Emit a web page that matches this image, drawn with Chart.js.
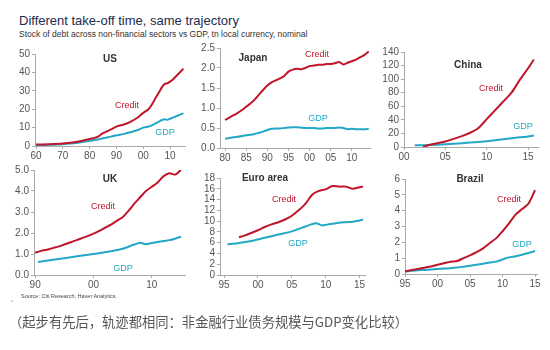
<!DOCTYPE html>
<html>
<head>
<meta charset="utf-8">
<script src="https://cdn.jsdelivr.net/npm/chart.js@4.4.1/dist/chart.umd.min.js"></script>
<style>
  body { margin: 0; background: #fff; width: 550px; height: 350px; position: relative; overflow: hidden;
         font-family: "Liberation Sans", Arial, sans-serif; }
  canvas { position: absolute; }
  .t { position: absolute; white-space: nowrap; }
  .c { transform: translate(-50%, -50%); }
  .name { font-weight: bold; font-size: 10px; color: #333; }
  .cr { font-size: 9px; color: #c0152a; }
  .gd { font-size: 9px; color: #23a7c6; }
</style>
</head>
<body>
<div class="t" style="left:19px;top:13px;font-size:13px;color:#1d2c4c;">Different take-off time, same trajectory</div>
<div class="t" style="left:19px;top:29px;font-size:8.5px;color:#333;">Stock of debt across non-financial sectors vs GDP, tn local currency, nominal</div>

<canvas id="us" width="10" height="10"></canvas>
<canvas id="jp" width="10" height="10"></canvas>
<canvas id="cn" width="10" height="10"></canvas>
<canvas id="uk" width="10" height="10"></canvas>
<canvas id="ea" width="10" height="10"></canvas>
<canvas id="br" width="10" height="10"></canvas>

<div class="t c name" style="left:110px;top:58px;">US</div>
<div class="t c name" style="left:253px;top:57px;">Japan</div>
<div class="t c name" style="left:468px;top:64px;">China</div>
<div class="t c name" style="left:110px;top:178px;">UK</div>
<div class="t c name" style="left:265px;top:177px;">Euro area</div>
<div class="t c name" style="left:470px;top:178px;">Brazil</div>

<div class="t c cr" style="left:127px;top:105px;">Credit</div>
<div class="t c cr" style="left:317px;top:54px;">Credit</div>
<div class="t c cr" style="left:491px;top:88px;">Credit</div>
<div class="t c cr" style="left:103px;top:206px;">Credit</div>
<div class="t c cr" style="left:284px;top:199px;">Credit</div>
<div class="t c cr" style="left:509px;top:199px;">Credit</div>

<div class="t c gd" style="left:165px;top:132px;">GDP</div>
<div class="t c gd" style="left:318px;top:118px;">GDP</div>
<div class="t c gd" style="left:523px;top:126px;">GDP</div>
<div class="t c gd" style="left:123px;top:268px;">GDP</div>
<div class="t c gd" style="left:298px;top:243px;">GDP</div>
<div class="t c gd" style="left:522px;top:244px;">GDP</div>

<div class="t" style="left:21px;top:293px;font-size:5.5px;color:#444;">Source: Citi Research, Haver Analytics.</div>
<div class="t" style="left:10px;top:292px;font-size:9px;color:#666;">、</div>
<div class="t" style="left:9px;top:312px;font-size:13.3px;color:#555;font-family:'Noto Sans CJK SC';">（起步有先后，轨迹都相同：非金融行业债务规模与GDP变化比较）</div>

<script>
// US
const usYears = [1960,1965,1970,1975,1980,1983,1985,1988,1990,1993,1995,1998,2000,2002,2003,2004,2005,2006,2007,2008,2009,2010,2011,2012,2013,2014,2015];
const usCredit = [0.8,1.0,1.4,2.2,3.8,5.0,7.0,9.0,10.5,11.8,13.0,15.5,18.0,20.0,22.0,24.5,27.0,29.5,32.0,33.8,34.0,35.0,36.0,37.5,39.0,40.5,42.0];
const usGdp = [0.5,0.7,1.0,1.6,2.8,3.5,4.2,5.1,5.8,6.6,7.4,8.7,10.0,10.6,11.1,11.8,12.6,13.4,14.1,14.5,14.2,14.8,15.4,16.0,16.6,17.2,17.8];
const usXTicks = [1960,1970,1980,1990,2000,2010];
const usYTicks = [0,10,20,30,40,50];

// Japan
const jpYears = [1980,1981,1982,1983,1984,1985,1986,1987,1988,1989,1990,1991,1992,1993,1994,1995,1996,1997,1998,1999,2000,2001,2002,2003,2004,2005,2006,2007,2008,2009,2010,2011,2012,2013,2014];
const jpCredit = [0.70,0.76,0.82,0.88,0.95,1.03,1.11,1.21,1.33,1.45,1.56,1.64,1.69,1.74,1.80,1.91,1.96,1.98,1.97,2.00,2.05,2.06,2.08,2.08,2.10,2.10,2.12,2.15,2.09,2.13,2.17,2.21,2.27,2.33,2.41];
const jpGdp = [0.23,0.25,0.27,0.28,0.30,0.32,0.33,0.35,0.38,0.41,0.45,0.48,0.49,0.49,0.50,0.51,0.52,0.52,0.51,0.50,0.50,0.50,0.49,0.49,0.50,0.50,0.50,0.51,0.50,0.47,0.48,0.47,0.47,0.47,0.48];
const jpXTicks = [1980,1985,1990,1995,2000,2005,2010];
const jpYTicks = [0,0.5,1.0,1.5,2.0,2.5];

// China
const cnCreditYears = [2002.3,2003,2004,2005,2006,2007,2008,2009,2010,2011,2012,2013,2014,2015,2015.7];
const cnCredit = [0,3,5.5,8,12,16,21,28,41,54,67,80,99,116,129];
const cnGdpYears = [2001.3,2003,2005,2007,2009,2010,2011,2012,2013,2014,2015,2015.7];
const cnGdp = [2.5,3,4,5.5,7.5,8.5,10,11.5,13,14.2,15.5,16.8];
const cnXTicks = [2000,2005,2010,2015];
const cnYTicks = [0,20,40,60,80,100,120,140];

// UK
const ukYears = [1990,1991,1992,1993,1994,1995,1996,1997,1998,1999,2000,2001,2002,2003,2004,2005,2006,2007,2008,2009,2010,2011,2012,2013,2014,2015];
const ukCredit = [1.06,1.15,1.20,1.28,1.35,1.45,1.55,1.65,1.75,1.85,1.97,2.10,2.25,2.40,2.58,2.75,3.05,3.40,3.70,4.00,4.20,4.40,4.70,4.85,4.78,5.00];
const ukGdpYears = [1990.5,1995,2000,2003,2005,2007,2008,2009,2010,2012,2013,2014,2015];
const ukGdp = [0.62,0.80,1.00,1.13,1.25,1.45,1.53,1.47,1.52,1.62,1.66,1.73,1.82];
const ukXTicks = [1990,2000,2010];
const ukYTicks = [0,1,2,3,4,5];

// Euro area
const eaCreditYears = [1997.2,1998,1999,2000,2001,2002,2003,2004,2005,2006,2007,2008,2009,2010,2011,2012,2013,2014,2015,2015.5];
const eaCredit = [7.0,7.3,7.8,8.3,8.9,9.4,9.8,10.3,11.0,12.0,13.2,14.9,15.6,15.9,16.5,16.4,16.4,16.0,16.3,16.4];
const eaGdpYears = [1995.5,1997,1999,2001,2003,2005,2007,2008.5,2009.5,2010,2011,2012,2013,2014,2015,2015.5];
const eaGdp = [5.7,5.9,6.3,6.9,7.5,8.1,9.0,9.6,9.2,9.3,9.5,9.7,9.8,9.9,10.1,10.3];
const eaXTicks = [1995,2000,2005,2010,2015];
const eaYTicks = [0,2,4,6,8,10,12,14,16,18];

// Brazil
const brYears = [1995,1996,1997,1998,1999,2000,2001,2002,2003,2004,2005,2006,2007,2008,2009,2010,2011,2012,2013,2014,2015];
const brCredit = [0.17,0.25,0.32,0.40,0.48,0.58,0.68,0.78,0.82,1.00,1.18,1.38,1.62,1.94,2.25,2.70,3.20,3.75,4.10,4.45,5.30];
const brGdp = [0.15,0.20,0.23,0.26,0.28,0.31,0.34,0.37,0.41,0.46,0.52,0.58,0.65,0.73,0.78,0.92,1.05,1.12,1.22,1.33,1.45];
const brXTicks = [1995,2000,2005,2010,2015];
const brYTicks = [0,1,2,3,4,5,6];

const creditColor = '#c0152a';
const gdpColor = '#23a7c6';
const Y_W = 30, X_H = 18, PAD_T = 7, PAD_R = 8;

function pts(xs, ys) {
  return xs.map((x, i) => ({ x: x, y: ys[i] }));
}

function makePanel(id, box, credit, gdp, xTicks, yTicks, digits) {
  const cv = document.getElementById(id);
  const left = Math.round(box.left) - Y_W;
  const top = Math.round(box.top) - PAD_T;
  cv.width = Math.round(box.right) - Math.round(box.left) + Y_W + PAD_R;
  cv.height = Math.round(box.bottom) - Math.round(box.top) + PAD_T + X_H;
  cv.style.left = left + 'px';
  cv.style.top = top + 'px';

  new Chart(cv, {
    type: 'line',
    data: {
      datasets: [
        { data: credit, borderColor: creditColor, borderWidth: 2, pointRadius: 0, tension: 0.25 },
        { data: gdp, borderColor: gdpColor, borderWidth: 2, pointRadius: 0, tension: 0.25 }
      ]
    },
    options: {
      responsive: false,
      animation: false,
      layout: { padding: { top: PAD_T, right: PAD_R, left: 0, bottom: 0 } },
      plugins: { legend: { display: false }, tooltip: { enabled: false } },
      scales: {
        x: {
          type: 'linear',
          min: box.xmin, max: box.xmax,
          afterFit: s => { s.height = X_H; },
          afterBuildTicks: s => { s.ticks = xTicks.map(v => ({ value: v })); },
          border: { display: true, color: '#aaa' },
          grid: { drawOnChartArea: false, tickLength: 3, color: '#aaa' },
          ticks: {
            autoSkip: false, maxRotation: 0, padding: 1, color: '#555',
            font: { size: 10, family: 'Liberation Sans' },
            callback: v => String(v % 100).padStart(2, '0')
          }
        },
        y: {
          min: yTicks[0], max: yTicks[yTicks.length - 1],
          afterFit: s => { s.width = Y_W; },
          afterBuildTicks: s => { s.ticks = yTicks.map(v => ({ value: v })); },
          border: { display: true, color: '#aaa' },
          grid: { drawOnChartArea: false, tickLength: 3, color: '#aaa' },
          ticks: {
            autoSkip: false, padding: 2, color: '#555',
            font: { size: 10, family: 'Liberation Sans' },
            callback: v => v.toFixed(digits)
          }
        }
      }
    }
  });
}

makePanel('us', { left: 35, right: 185, top: 53, bottom: 146, xmin: 1959.6, xmax: 2015.6 },
  pts(usYears, usCredit), pts(usYears, usGdp), usXTicks, usYTicks, 0);
makePanel('jp', { left: 220, right: 370, top: 47, bottom: 148, xmin: 1978.8, xmax: 2014.3 },
  pts(jpYears, jpCredit), pts(jpYears, jpGdp), jpXTicks, jpYTicks, 1);
makePanel('cn', { left: 404, right: 538, top: 51, bottom: 147, xmin: 2000, xmax: 2016.2 },
  pts(cnCreditYears, cnCredit), pts(cnGdpYears, cnGdp), cnXTicks, cnYTicks, 0);
makePanel('uk', { left: 34, right: 185, top: 169, bottom: 275, xmin: 1989.8, xmax: 2015.7 },
  pts(ukYears, ukCredit), pts(ukGdpYears, ukGdp), ukXTicks, ukYTicks, 1);
makePanel('ea', { left: 220, right: 365, top: 177, bottom: 275, xmin: 1994.4, xmax: 2015.8 },
  pts(eaCreditYears, eaCredit), pts(eaGdpYears, eaGdp), eaXTicks, eaYTicks, 0);
makePanel('br', { left: 405, right: 537, top: 178, bottom: 274, xmin: 1995, xmax: 2015.3 },
  pts(brYears, brCredit), pts(brYears, brGdp), brXTicks, brYTicks, 0);
</script>
</body>
</html>
